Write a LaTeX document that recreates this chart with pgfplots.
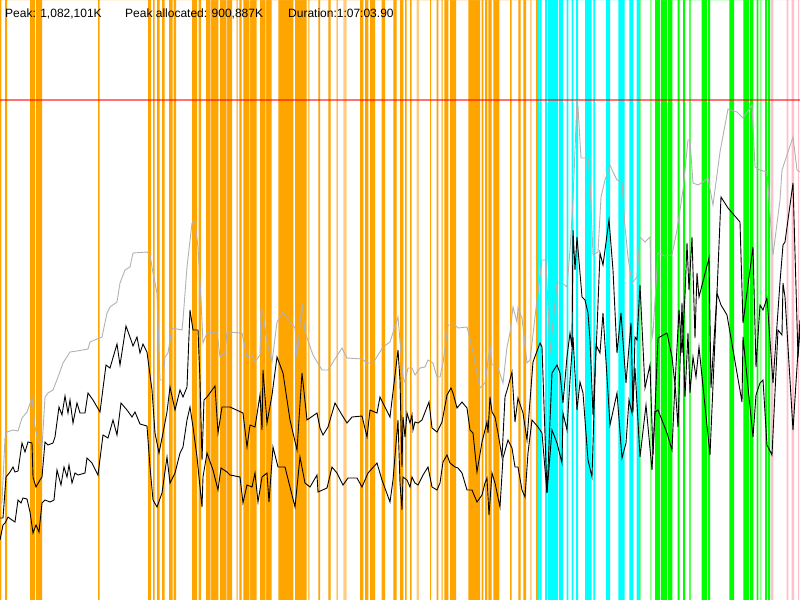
\documentclass[border=0pt]{standalone}
\usepackage{fontspec}
\setmainfont{Liberation Sans}
\usepackage{pgfplots}
\pgfplotsset{compat=1.18}
\definecolor{bOrange}{RGB}{255,165,0}
\definecolor{lOrange}{RGB}{255,205,130}
\definecolor{bCyan}{RGB}{0,255,255}
\definecolor{bGreen}{RGB}{0,255,0}
\definecolor{lGreen}{RGB}{140,255,140}
\definecolor{bPink}{RGB}{255,192,203}
\definecolor{gLine}{RGB}{178,178,178}
\begin{document}
\begin{tikzpicture}
\fill[white] (0,0) rectangle (800bp,600bp);
\begin{axis}[width=800bp,height=600bp,scale only axis,
  xmin=0,xmax=800,ymin=0,ymax=600,y dir=reverse,
  axis lines=none,ticks=none,clip=true]
% orange bands
\addplot[draw=none,fill=bOrange,const plot mark left] coordinates {
(0,600)(1.5,0)(5,600)(7,0)(30,600)(35,0)(36,600)(42,0)(98,600)(99.5,0)
(148,600)(151,0)(153,600)(154.5,0)(157,600)(159.5,0)(162,600)(164.5,0)
(169,600)(172.5,0)(173.5,600)(176,0)(192,600)(197,0)(198.5,600)(201,0)
(206,600)(218.3,0)(220,600)(232,0)
(236.7,600)(237.7,0)(239.3,600)(241.7,0)(243.3,600)(256.7,0)
(260,600)(271.7,0)(278.3,600)(293.3,0)
(295,600)(306.7,0)(308.3,600)(309.3,0)(318.3,600)(320,0)(328.3,600)(330.7,0)
(336.7,600)(337.7,0)(360,600)(363.3,0)(365,600)(368.3,0)(370,600)(375,0)
(381.7,600)(385,0)(393.3,600)(396.7,0)(400,600)(403.3,0)(405,600)(406.7,0)
(410,600)(411.7,0)(430,600)(431,0)(436.7,600)(438.3,0)(441.7,600)(442.7,0)
(444.3,600)(448.3,0)(450,600)(456,0)(468.3,600)(480,0)(481.7,600)(483.3,0)
(485,600)(487.3,0)(488.3,600)(491.7,0)(493.3,600)(499.3,0)(510,600)(511.7,0)
(518.3,600)(520.7,0)(523.3,600)(526,0)(536,600)(538,0)
} \closedcycle;
\addplot[draw=none,fill=lOrange,const plot mark left] coordinates {
(210,600)(211,0)(226,600)(227,0)(249,600)(250,0)(265,600)(266,0)
(343.3,600)(346.7,0)(416.7,600)(419,0)(530,600)(531.5,0)
} \closedcycle;
% cyan bands
\addplot[draw=none,fill=bCyan,const plot mark left] coordinates {
(538,600)(539.5,0)(540,600)(541.5,0)(545,600)(547,0)(548,600)(558,0)(559,600)(563,0)
(566.7,600)(568.3,0)(571.7,600)(573.3,0)(576,600)(578,0)(585,600)(591.7,0)
(593.3,600)(595,0)(606,600)(610,0)(618.3,600)(624.5,0)(629.3,600)(633.3,0)
(636.7,600)(640,0)
} \closedcycle;
% green bands
\addplot[draw=none,fill=bGreen,const plot mark left] coordinates {
(655,600)(660,0)(661,600)(667,0)(668,600)(672.3,0)(677.5,600)(679.5,0)
(683,600)(685,0)(689.3,600)(690.7,0)(701.7,600)(707,0)(708,600)(710,0)
(729.3,600)(734,0)(743.3,600)(749,0)(750,600)(753.3,0)(756.7,600)(758.3,0)
(765,600)(767,0)(768,600)(770,0)
} \closedcycle;
\addplot[draw=none,fill=lGreen,const plot mark left] coordinates {
(640,600)(641,0)(650,600)(651.7,0)(760,600)(761.7,0)
} \closedcycle;
% pink bands
\addplot[draw=none,fill=bPink,const plot mark left] coordinates {
(771,600)(773.3,0)(786.7,600)(788.3,0)(791.7,600)(794,0)(798,600)(799,0)
} \closedcycle;
% red limit line
\addplot[draw=red,opacity=0.55,line width=1.5bp] coordinates {(0,100)(800,100)};
% gray line
\addplot[gLine,line width=0.9bp] coordinates {
(0,505)(2,502)(5,438)(7,432)(13,430)(18,431)(22,418)(27,412)(32,398)(35,427)(38,440)(42,448)
(45,397)(48,393)(53,390)(58,377)(63,363)(70,352)(77,351)(88,349)(90,342)(97,339)(102,337)
(107,313)(110,307)(117,302)(120,283)(125,270)(130,267)(133,253)(147,252)(150,255)(153,273)
(157,293)(160,380)(163,380)(165,357)(168,353)(172,328)(182,330)(183,320)(187,267)(192,223)
(195,222)(198,247)(201,300)(203,343)(207,333)(217,332)(220,357)(225,352)(227,332)(242,333)
(247,357)(252,355)(255,362)(260,355)(261,310)(263,313)(267,342)(272,362)(277,322)(283,312)
(295,328)(297,358)(302,303)(305,332)(313,355)(322,370)(328,370)(342,348)(347,358)(362,359)
(367,363)(373,363)(383,347)(390,342)(398,317)(403,377)(405,382)(408,368)(412,368)(415,375)
(420,368)(425,367)(428,360)(433,363)(437,377)(440,377)(443,363)(448,325)(455,325)(458,328)
(467,327)(472,347)(475,363)(480,388)(485,383)(490,347)(492,365)(497,365)(503,383)(507,347)
(510,333)(513,307)(517,322)(518,308)(522,318)(527,363)(530,360)(537,300)(542,260)(546,260)
(550,353)(557,283)(562,283)(567,287)(570,250)(573,200)(577,100)(578,107)(581,158)(588,158)
(590,180)(593,255)(598,252)(601,197)(605,180)(610,165)(613,172)(617,180)(622,182)(625,227)
(628,257)(632,283)(637,277)(640,237)(645,242)(650,237)(652,338)(653,333)(658,253)(665,256)
(672,255)(677,230)(683,190)(688,140)(690,140)(693,183)(698,185)(703,182)(708,178)(713,205)
(720,152)(728,109)(737,112)(743,118)(752,105)(755,167)(760,170)(767,172)(773,255)(780,200)
(782,170)(793,137)(797,170)(800,172)
};
% upper black line
\addplot[black,line width=0.9bp] coordinates {
(0,518)(3,518)(6,477)(10,472)(13,467)(15,472)(18,471)(22,443)(25,452)(28,442)(32,443)(33,477)
(36,487)(40,480)(42,477)(45,442)(48,445)(53,443)(55,437)(59,407)(62,415)(65,396)(68,413)(70,400)
(73,423)(77,403)(80,413)(85,413)(88,393)(93,400)(100,412)(106,365)(110,368)(117,344)(120,365)
(126,326)(131,340)(133,346)(137,337)(140,353)(143,344)(147,352)(152,390)(155,433)(159,453)
(163,433)(167,412)(170,387)(175,410)(180,390)(183,397)(187,387)(190,310)(193,330)(198,330)
(200,380)(202,460)(204,400)(207,397)(215,386)(218,433)(222,407)(230,407)(243,413)(247,447)
(250,425)(255,427)(258,408)(260,395)(262,430)(263,370)(267,423)(272,395)(277,357)(283,373)
(290,420)(297,450)(302,373)(307,420)(317,413)(320,428)(323,435)(328,427)(335,403)(342,415)
(347,423)(352,417)(362,416)(367,437)(370,410)(377,413)(380,397)(390,417)(398,350)(400,380)
(402,467)(403,417)(405,437)(407,413)(410,423)(412,415)(413,430)(415,422)(418,423)(422,420)
(427,407)(429,402)(432,428)(437,432)(442,422)(447,395)(451,388)(453,393)(457,408)(462,402)
(467,408)(470,430)(473,433)(477,472)(482,442)(485,430)(487,422)(488,433)(490,397)(492,412)
(495,417)(498,433)(502,457)(505,397)(508,387)(512,372)(515,422)(518,398)(523,413)(527,440)
(533,362)(540,343)(542,347)(547,493)(552,373)(557,365)(560,373)(563,403)(567,357)(570,333)
(572,347)(573,230)(575,270)(577,237)(582,297)(585,300)(588,313)(590,340)(593,415)(597,330)
(600,253)(603,265)(609,220)(613,270)(617,353)(621,313)(626,383)(631,323)(633,412)(635,337)
(637,340)(640,285)(645,388)(650,365)(653,455)(655,410)(658,338)(667,333)(672,357)(675,385)
(679,310)(682,353)(685,295)(687,243)(689,290)(692,237)(695,338)(697,273)(699,297)(709,258)
(711,388)(717,293)(721,197)(728,208)(740,222)(743,323)(753,247)(756,367)(760,305)(763,310)
(767,298)(773,383)(780,282)(783,245)(785,242)(793,183)(798,357)(800,330)
};
% lower black line
\addplot[black,line width=0.9bp] coordinates {
(0,540)(3,525)(5,523)(8,517)(12,520)(15,522)(18,500)(21,503)(23,498)(27,499)(30,512)(33,533)
(36,525)(39,532)(42,503)(45,500)(50,502)(54,500)(57,470)(61,485)(64,467)(67,477)(69,465)
(72,483)(75,473)(78,475)(85,473)(87,458)(92,463)(98,475)(103,435)(108,438)(113,420)(117,435)
(121,403)(127,410)(132,417)(135,412)(140,424)(147,426)(150,467)(153,500)(157,507)(162,493)
(167,457)(170,483)(175,473)(180,453)(183,447)(187,420)(190,407)(193,427)(197,457)(202,507)
(203,477)(207,453)(213,470)(218,490)(221,468)(227,472)(230,475)(240,477)(243,503)(247,485)
(252,487)(255,473)(258,502)(262,477)(267,473)(269,502)(273,447)(278,467)(285,467)(295,507)
(300,457)(305,483)(310,487)(317,475)(318,492)(327,488)(332,467)(337,473)(343,485)(348,478)
(357,478)(362,487)(368,473)(377,463)(382,480)(390,502)(393,480)(398,420)(400,483)(402,510)
(403,477)(407,480)(410,487)(412,477)(415,483)(418,485)(423,475)(428,467)(432,487)(437,490)
(440,483)(443,462)(447,455)(450,463)(455,467)(458,468)(462,473)(467,490)(472,490)(477,502)
(482,495)(485,483)(487,478)(489,515)(492,473)(495,483)(500,507)(503,458)(508,440)(512,448)
(515,467)(518,467)(522,490)(525,497)(528,453)(532,420)(538,427)(542,433)(547,493)(552,430)
(557,443)(562,463)(563,413)(567,430)(570,380)(573,337)(577,410)(580,382)(583,393)(588,460)
(592,477)(596,345)(600,353)(603,313)(610,425)(617,393)(622,458)(626,443)(629,400)(632,413)
(635,368)(640,457)(646,405)(652,470)(655,412)(658,410)(667,433)(672,450)(675,383)(678,427)
(682,303)(685,397)(688,333)(690,393)(693,357)(696,377)(699,347)(710,455)(717,293)(721,305)
(727,315)(742,402)(743,337)(753,437)(756,395)(760,383)(763,380)(767,445)(772,455)(778,330)
(782,335)(783,283)(785,297)(793,430)(800,320)
};
\node[anchor=base west,inner sep=0pt,font=\fontsize{12bp}{14bp}\selectfont] at (axis cs:5,17) {Peak: 1,082,101K};
\node[anchor=base west,inner sep=0pt,font=\fontsize{12bp}{14bp}\selectfont] at (axis cs:125,17) {Peak allocated: 900,887K};
\node[anchor=base west,inner sep=0pt,font=\fontsize{12bp}{14bp}\selectfont] at (axis cs:288,17) {Duration:1:07:03.90};
\end{axis}
\path (0,0) rectangle (800bp,600bp);
\end{tikzpicture}
\end{document}
